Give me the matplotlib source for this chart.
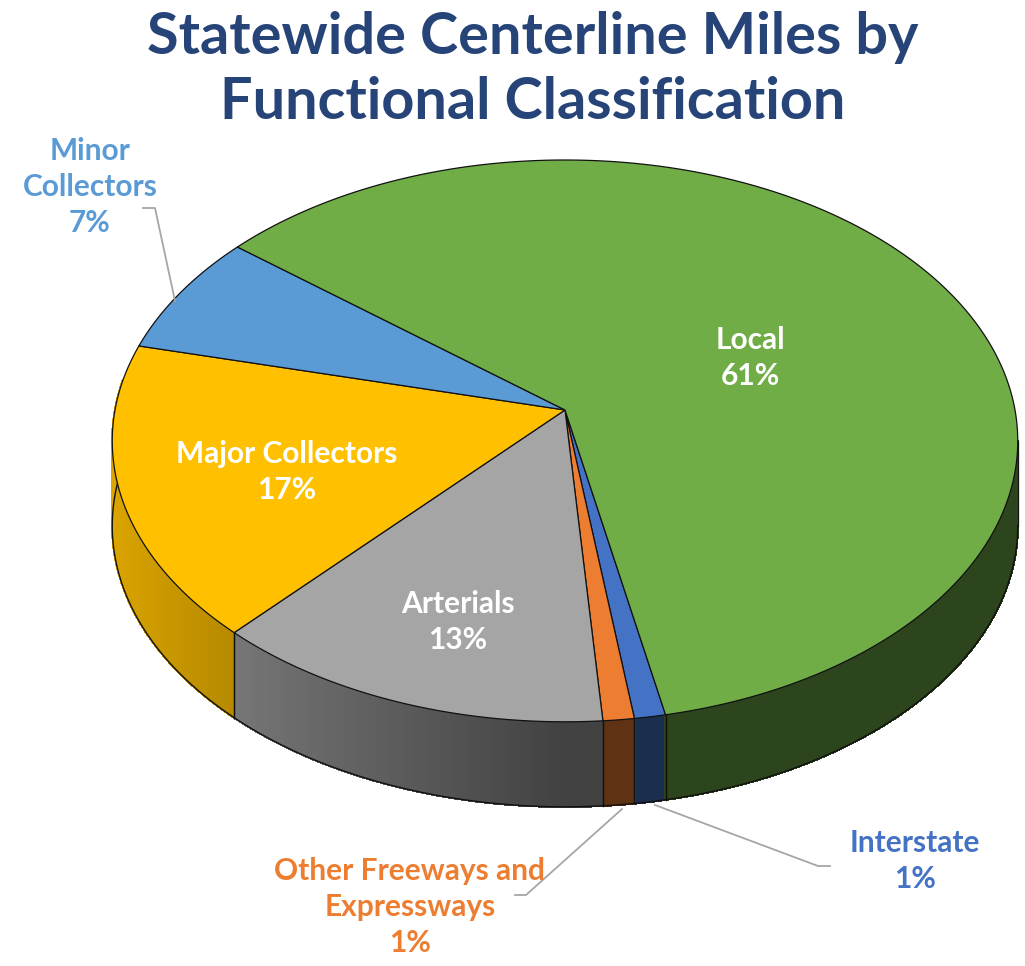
import numpy as np
import matplotlib.pyplot as plt
from matplotlib.collections import PolyCollection
from matplotlib.patches import Polygon

# Data (clockwise order, starting just right of 6 o'clock)
categories = ["Interstate", "Other Freeways and\nExpressways", "Arterials",
              "Major Collectors", "Minor\nCollectors", "Local"]
shares = [1, 1, 13, 17, 7, 61]
colors = ["#4472c4", "#ed7d31", "#a5a5a5", "#ffc000", "#5b9bd5", "#70ad47"]

# pie geometry in pixels (perspective disc)
CX, CY = 565, 410
RX, RY = 450, 277.5
K = 0.11          # perspective strength
DEPTH = 85
START = 168.5     # first slice angle, clockwise from 12 o'clock
SIL = np.degrees(np.arcsin(K))


def project(phi):
    t = np.radians(phi)
    u, v = np.cos(t), np.sin(t)
    s = 1 + K * v
    return CX + RX * u / s, CY - RY * v / s


def shade(phi):
    c = -np.cos(np.radians(phi))
    return 0.40 + 0.47 * np.clip(c, 0, 1)


def rgb(hexcol):
    hexcol = hexcol.lstrip("#")
    return np.array([int(hexcol[i:i + 2], 16) for i in (0, 2, 4)]) / 255.0


fig = plt.figure(figsize=(10.25, 9.66), dpi=100)
ax = fig.add_axes([0, 0, 1, 1])
ax.set_xlim(0, 1025)
ax.set_ylim(966, 0)
ax.axis("off")

cum = np.concatenate([[0], np.cumsum(shares)]) / sum(shares) * 360
phi_start = 90 - (START + cum[:-1])
phi_end = 90 - (START + cum[1:])

# side walls
for i in range(len(shares)):
    lo, hi = phi_end[i], phi_start[i]
    base = rgb(colors[i])
    for shift in (0, -360):
        a = max(lo, -180 - SIL + shift)
        b = min(hi, -SIL + shift)
        if a >= b:
            continue
        ts = np.linspace(a, b, max(int((b - a) * 2), 2))
        xs, ys = project(ts)
        quads, fc = [], []
        for j in range(len(ts) - 1):
            quads.append([(xs[j], ys[j]), (xs[j + 1], ys[j + 1]),
                          (xs[j + 1], ys[j + 1] + DEPTH), (xs[j], ys[j] + DEPTH)])
            fc.append(np.clip(base * shade((ts[j] + ts[j + 1]) / 2), 0, 1))
        ax.add_collection(PolyCollection(quads, facecolors=fc, edgecolors=fc,
                                         linewidths=1.0, antialiased=False, zorder=1))
        ax.plot(xs, ys + DEPTH, color="#111111", lw=1.0, zorder=2)
        for x0, y0 in ((xs[0], ys[0]), (xs[-1], ys[-1])):
            ax.plot([x0, x0], [y0, y0 + DEPTH], color="#111111", lw=0.9, zorder=2)

# top faces
for i in range(len(shares)):
    ts = np.linspace(phi_start[i], phi_end[i], max(int(abs(phi_start[i] - phi_end[i]) * 2), 3))
    xs, ys = project(ts)
    pts = [(CX, CY)] + list(zip(xs, ys))
    ax.add_patch(Polygon(pts, closed=True, facecolor=colors[i],
                         edgecolor="#111111", lw=0.9, zorder=3))

# labels
fam = ["Lato", "DejaVu Sans"]
inside = {"Local": (750, 358), "Major Collectors": (287, 472), "Arterials": (458, 622)}
for name, (x, y) in inside.items():
    i = categories.index(name)
    ax.text(x, y, f"{name}\n{shares[i]}%", ha="center", va="center", color="white",
            fontsize=21.5, fontweight="bold", family=fam, linespacing=1.35, zorder=5)

outside = {
    "Minor\nCollectors": ((90, 187), [(143, 208), (155, 208), (175, 301)]),
    "Other Freeways and\nExpressways": ((410, 907), [(515, 895), (526, 895), (622, 809)]),
    "Interstate": ((915, 861), [(830, 866), (818, 866), (655, 805)]),
}
for name, ((x, y), leader) in outside.items():
    i = categories.index(name)
    ax.text(x, y, f"{name}\n{shares[i]}%", ha="center", va="center", color=colors[i],
            fontsize=21.5, fontweight="bold", family=fam, linespacing=1.35, zorder=5)
    lx, ly = zip(*leader)
    ax.plot(lx, ly, color="#a6a6a6", lw=1.3, zorder=4)

ax.text(533, 70, "Statewide Centerline Miles by\nFunctional Classification",
        ha="center", va="center", color="#264478", fontsize=41.5, fontweight="bold",
        family=fam, linespacing=1.3)

fig.savefig("out.png", dpi=100)
